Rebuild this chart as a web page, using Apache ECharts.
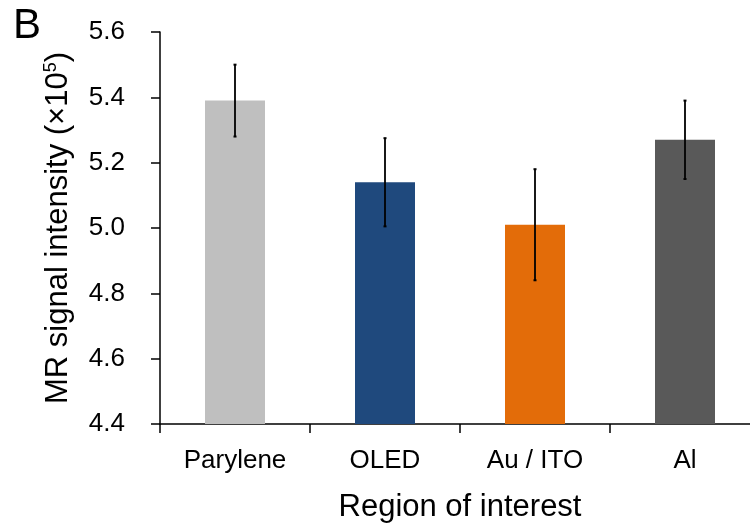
<!DOCTYPE html>
<html>
<head>
<meta charset="utf-8">
<script src="https://cdn.jsdelivr.net/npm/echarts@6/dist/echarts.min.js"></script>
<style>html,body{margin:0;padding:0;background:#fff;}#c{width:750px;height:525px;}</style>
</head>
<body>
<div id="c"></div>
<script>
var categories = ['Parylene', 'OLED', 'Au / ITO', 'Al'];
var means = [5.39, 5.14, 5.01, 5.27];
var errors = [0.11, 0.135, 0.17, 0.12];
var barColors = ['#BFBFBF', '#1F497D', '#E36C09', '#595959'];
var yTicks = [4.4, 4.6, 4.8, 5.0, 5.2, 5.4, 5.6];

var chart = echarts.init(document.getElementById('c'));
var font = 'Liberation Sans, Arial, sans-serif';
chart.setOption({
  animation: false,
  backgroundColor: '#fff',
  title: {
    text: 'B', left: 8, top: 0,
    textStyle: {fontFamily: font, fontSize: 42, fontWeight: 'normal', color: '#000'}
  },
  grid: {left: 160, right: -10, top: 32, bottom: 101, containLabel: false, outerBoundsMode: 'none'},
  xAxis: {
    type: 'category',
    data: categories,
    name: 'Region of interest',
    nameLocation: 'middle',
    nameGap: 68,
    nameTextStyle: {fontFamily: font, fontSize: 31, color: '#000'},
    axisLine: {lineStyle: {color: '#000', width: 1.5}},
    axisTick: {show: true, alignWithLabel: false, length: 9, lineStyle: {color: '#000', width: 1.5}},
    axisLabel: {fontFamily: font, fontSize: 26, color: '#000', margin: 24}
  },
  yAxis: {
    type: 'value',
    min: yTicks[0], max: yTicks[yTicks.length - 1], interval: 0.2,
    name: 'MR signal intensity (×10{sup|5})',
    nameLocation: 'middle',
    nameGap: 86,
    nameTextStyle: {fontFamily: font, fontSize: 31, color: '#000',
      rich: {sup: {fontFamily: font, fontSize: 18, verticalAlign: 'top', padding: [0, 0, 14, 0], color: '#000'}}},
    axisLine: {show: true, lineStyle: {color: '#000', width: 1.5}},
    axisTick: {show: true, length: 9, lineStyle: {color: '#000', width: 1.5}},
    splitLine: {show: false},
    axisLabel: {fontFamily: font, fontSize: 26, color: '#000', margin: 35,
      formatter: function (v) { return v.toFixed(1); }}
  },
  series: [
    {
      type: 'bar',
      data: means.map(function (v, i) { return {value: v, itemStyle: {color: barColors[i]}}; }),
      barWidth: '40%'
    },
    {
      type: 'custom',
      data: means.map(function (v, i) { return [i, v - errors[i], v + errors[i]]; }),
      renderItem: function (params, api) {
        var lo = api.coord([api.value(0), api.value(1)]);
        var hi = api.coord([api.value(0), api.value(2)]);
        return {
          type: 'group',
          children: [
            {type: 'line', shape: {x1: hi[0], y1: hi[1], x2: lo[0], y2: lo[1]}, style: {stroke: '#000', lineWidth: 1.8}},
            {type: 'line', shape: {x1: hi[0] - 1.5, y1: hi[1], x2: hi[0] + 1.5, y2: hi[1]}, style: {stroke: '#000', lineWidth: 2}},
            {type: 'line', shape: {x1: lo[0] - 1.5, y1: lo[1], x2: lo[0] + 1.5, y2: lo[1]}, style: {stroke: '#000', lineWidth: 2}}
          ]
        };
      },
      z: 10
    }
  ]
});
</script>
</body>
</html>
